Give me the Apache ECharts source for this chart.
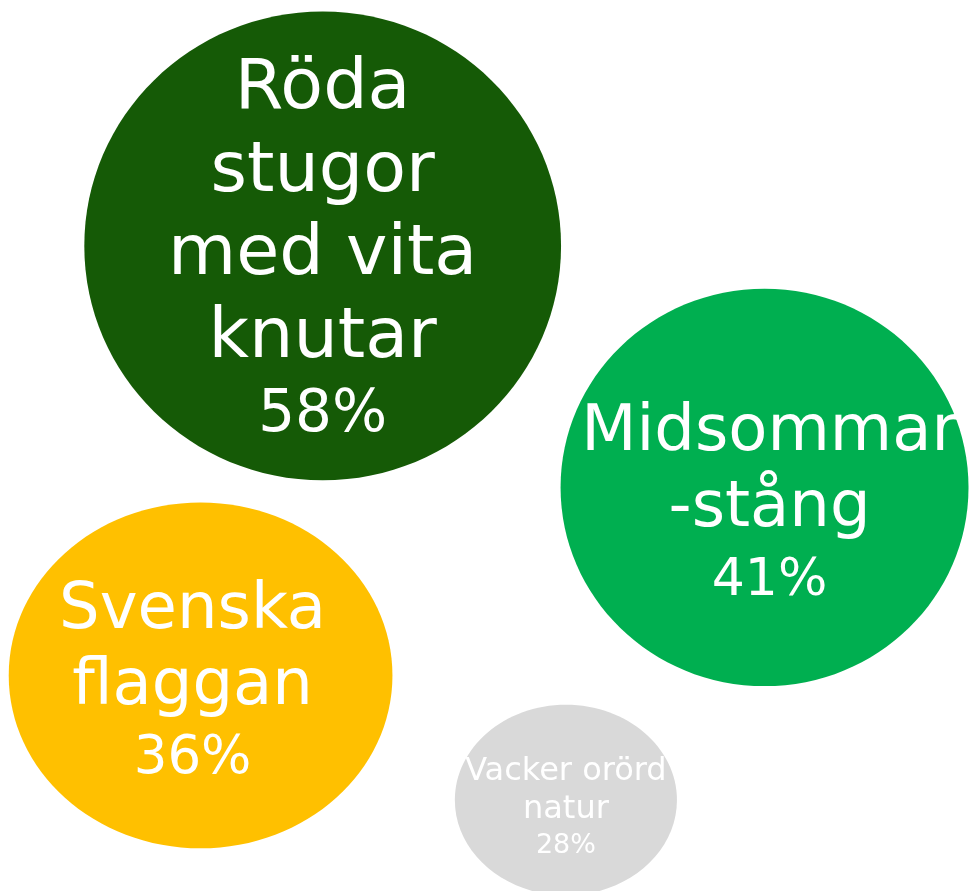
<!DOCTYPE html>
<html>
<head>
<meta charset="utf-8">
<script src="https://cdn.jsdelivr.net/npm/echarts@6/dist/echarts.min.js"></script>
<style>
  html, body { margin: 0; padding: 0; background: #fff; }
  #chart { width: 969px; height: 891px; }
</style>
</head>
<body>
<div id="chart"></div>
<script>
  // kategorier och andelar
  const labels = ['Röda\nstugor\nmed vita\nknutar', 'Midsommar\n-stång', 'Svenska\nflaggan', 'Vacker orörd\nnatur']
  const values = [58, 41, 36, 28]
  // bubblornas mittpunkter (0-100 på varje axel, y räknas uppifrån)
  const xPos = [33.3, 78.9, 20.7, 58.4]
  const yPos = [27.6, 54.7, 75.8, 89.8]

  // utseende per bubbla: färg, radie i axelenheter, textstorlek
  const bubbleStyles = [
    {color: '#155A06', rx: 24.6, ry: 26.3, nameSize: 70, nameLine: 83, pctSize: 58, pctLine: 72, dx: 0, dy: 4},
    {color: '#00AF50', rx: 21.05, ry: 22.3, nameSize: 64, nameLine: 76, pctSize: 52, pctLine: 68, dx: 5, dy: 18},
    {color: '#FFC000', rx: 19.8, ry: 19.4, nameSize: 64, nameLine: 76, pctSize: 53, pctLine: 68, dx: -8, dy: 8},
    {color: '#D9D9D9', rx: 11.46, ry: 10.7, nameSize: 32, nameLine: 38, pctSize: 27, pctLine: 35, dx: 0, dy: 8}
  ]

  const chart = echarts.init(document.getElementById('chart'))

  const seriesData = labels.map((name, i) => [xPos[i], yPos[i], values[i], i])

  chart.setOption({
    animation: false,
    grid: {left: 0, right: 0, top: 0, bottom: 0},
    xAxis: {type: 'value', min: 0, max: 100, show: false},
    yAxis: {type: 'value', min: 0, max: 100, inverse: true, show: false},
    series: [{
      type: 'custom',
      clip: false,
      data: seriesData,
      renderItem: function (params, api) {
        const i = api.value(3)
        const st = bubbleStyles[i]
        const c = api.coord([api.value(0), api.value(1)])
        const r = api.size([st.rx, st.ry])
        const lines = labels[i].split('\n').map(l => '{n|' + l + '}')
        lines.push('{p|' + api.value(2) + '%}')
        return {
          type: 'group',
          children: [{
            type: 'ellipse',
            shape: {cx: c[0], cy: c[1], rx: r[0], ry: r[1]},
            style: {fill: st.color}
          }, {
            type: 'text',
            style: {
              x: c[0] + st.dx,
              y: c[1] + st.dy,
              text: lines.join('\n'),
              align: 'center',
              verticalAlign: 'middle',
              fill: '#fff',
              fontFamily: 'DejaVu Sans, Verdana, sans-serif',
              rich: {
                n: {fontSize: st.nameSize, lineHeight: st.nameLine, fill: '#fff', fontFamily: 'DejaVu Sans, Verdana, sans-serif'},
                p: {fontSize: st.pctSize, lineHeight: st.pctLine, fill: '#fff', fontFamily: 'DejaVu Sans, Verdana, sans-serif'}
              }
            }
          }]
        }
      }
    }]
  })
</script>
</body>
</html>
